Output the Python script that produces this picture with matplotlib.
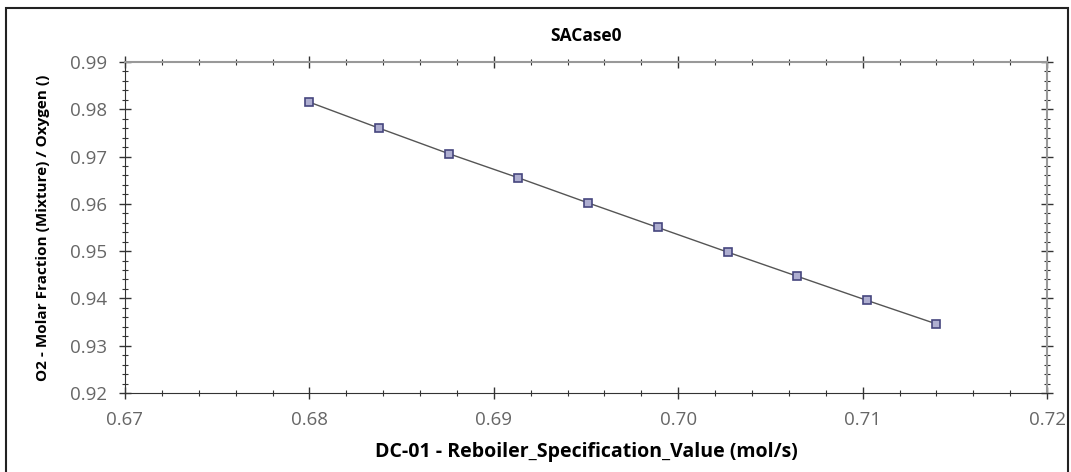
import matplotlib

matplotlib.use("Agg")
import matplotlib.pyplot as plt
from matplotlib.patches import Rectangle
from matplotlib.ticker import MultipleLocator

# Data
reboiler_spec = [0.68000, 0.68378, 0.68756, 0.69133, 0.69511,
                 0.69889, 0.70267, 0.70644, 0.71022, 0.71400]
o2_fraction = [0.9815, 0.9760, 0.9706, 0.9655, 0.9602,
               0.9550, 0.9498, 0.9447, 0.9396, 0.9346]

plt.rcParams["font.family"] = ["Open Sans", "DejaVu Sans"]

fig = plt.figure(figsize=(10.71, 4.72), dpi=100)
ax = fig.add_axes([0.1167, 0.1674, 0.861, 0.7013])

ax.plot(reboiler_spec, o2_fraction, color="#555555", lw=1.0,
        marker="s", ms=5.5, mfc="#aeaed0", mec="#46467e", mew=1.2)

ax.set_xlim(0.67, 0.72)
ax.set_ylim(0.92, 0.99)
ax.xaxis.set_major_locator(MultipleLocator(0.01))
ax.xaxis.set_minor_locator(MultipleLocator(0.002))
ax.yaxis.set_major_locator(MultipleLocator(0.01))
ax.yaxis.set_minor_locator(MultipleLocator(0.002))
ax.xaxis.set_major_formatter(plt.FormatStrFormatter("%.2f"))
ax.yaxis.set_major_formatter(plt.FormatStrFormatter("%.2f"))

ax.tick_params(which="both", direction="inout", top=True, right=True,
               colors="#333333", labelcolor="#666666", labelsize=13.5)
ax.tick_params(which="major", length=8, width=1.0, pad=9)
ax.tick_params(which="minor", length=4, width=0.8)

for side in ("left", "bottom"):
    ax.spines[side].set_color("#333333")
for side in ("top", "right"):
    ax.spines[side].set_color("#999999")
    ax.spines[side].set_linewidth(1.5)

ax.set_title("SACase0", fontsize=12.5, fontweight="bold", pad=15)
ax.set_xlabel("DC-01 - Reboiler_Specification_Value (mol/s)",
              fontsize=14, fontweight="bold", labelpad=9)
ax.set_ylabel("O2 - Molar Fraction (Mixture) / Oxygen ()",
              fontsize=11, fontweight="bold", labelpad=14)

# outer frame
fig.patches.append(Rectangle((6 / 1071, -0.01), 1062 / 1071, 1 - 8 / 472 + 0.01,
                             transform=fig.transFigure, fill=False,
                             edgecolor="#222222", lw=1.5))

fig.savefig("out.png", dpi=100)
